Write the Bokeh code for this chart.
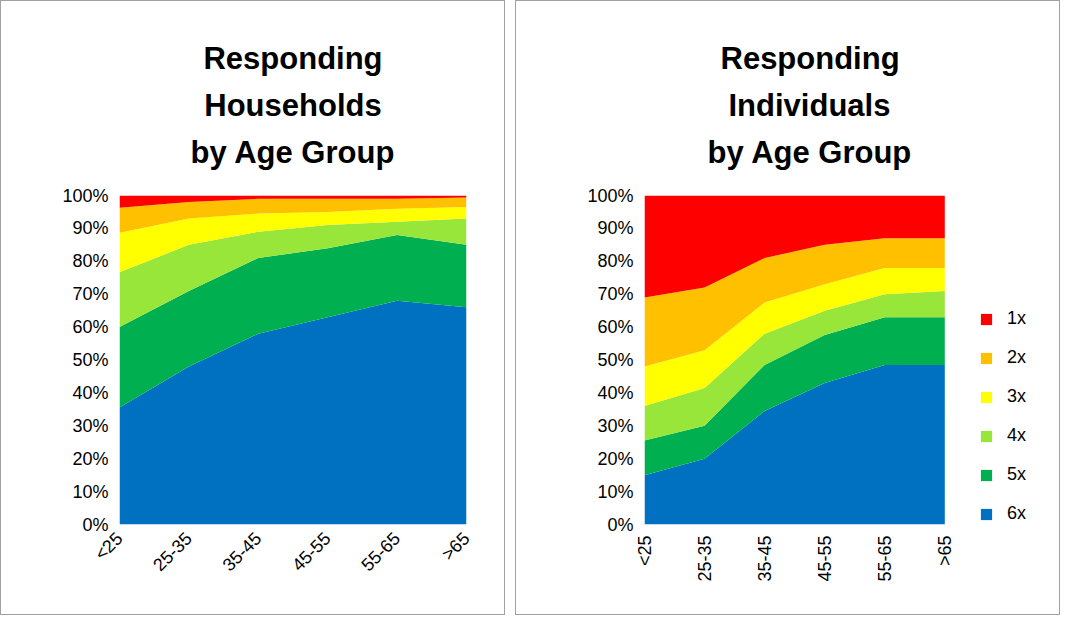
from bokeh.plotting import figure
from bokeh.layouts import row
from bokeh.models import FixedTicker, Title, Legend, LegendItem, NumeralTickFormatter, Range1d
from bokeh.embed import file_html
from bokeh.resources import INLINE
import math

cats = ["<25", "25-35", "35-45", "45-55", "55-65", ">65"]
series = ["6x", "5x", "4x", "3x", "2x", "1x"]
colors = ["#0070C0", "#00B050", "#99E63A", "#FFFF00", "#FFC000", "#FF0000"]

hh_6x = [0.356, 0.48, 0.58, 0.63, 0.68, 0.66]
hh_5x = [0.244, 0.23, 0.23, 0.21, 0.20, 0.19]
hh_4x = [0.167, 0.14, 0.08, 0.07, 0.04, 0.08]
hh_3x = [0.12, 0.08, 0.055, 0.04, 0.04, 0.035]
hh_2x = [0.076, 0.05, 0.045, 0.04, 0.03, 0.029]
hh_1x = [0.037, 0.02, 0.01, 0.01, 0.01, 0.006]

ind_6x = [0.15, 0.20, 0.345, 0.43, 0.485, 0.485]
ind_5x = [0.105, 0.10, 0.14, 0.146, 0.145, 0.145]
ind_4x = [0.105, 0.115, 0.095, 0.074, 0.07, 0.08]
ind_3x = [0.12, 0.115, 0.095, 0.08, 0.08, 0.07]
ind_2x = [0.21, 0.19, 0.135, 0.12, 0.09, 0.09]
ind_1x = [0.31, 0.28, 0.19, 0.15, 0.13, 0.13]

FONT = "Liberation Sans"

def make(title_lines, data, rot, w, w_left, w_right, w_bottom, x_end, t_offs=None, legend=False):
    p = figure(output_backend="svg", toolbar_location=None,
               width=w, height=615,
               x_range=Range1d(0, x_end), y_range=Range1d(0, 1),
               min_border_left=w_left, min_border_right=w_right, min_border_top=0,
               min_border_bottom=w_bottom)
    src = {"x": list(range(len(cats)))}
    for s, d in zip(series, data):
        src[s] = d
    rs = p.varea_stack(stackers=series, x="x", color=colors, source=src)
    p.add_layout(Title(text=" ", text_font_size="8px"), "above")
    for i in reversed(range(len(title_lines))):
        kw = dict(align="center") if t_offs is None else dict(align="left", offset=t_offs[i])
        p.add_layout(Title(text=title_lines[i], text_font=FONT,
                           text_font_size="31px", text_font_style="bold",
                           text_color="#000000", **kw), "above")
    p.add_layout(Title(text=" ", text_font_size="18px"), "above")
    p.xaxis.ticker = FixedTicker(ticks=list(range(len(cats))))
    p.xaxis.major_label_overrides = {i: c for i, c in enumerate(cats)}
    p.xaxis.major_label_orientation = rot
    p.yaxis.ticker = FixedTicker(ticks=[i / 10 for i in range(11)])
    p.yaxis.formatter = NumeralTickFormatter(format="0%")
    for ax in (p.xaxis, p.yaxis):
        ax.axis_line_color = None
        ax.major_tick_line_color = None
        ax.minor_tick_line_color = None
        ax.major_label_text_font = FONT
        ax.major_label_text_font_size = "18px"
        ax.major_label_text_color = "#000000"
    p.grid.grid_line_color = None
    p.outline_line_color = None
    p.styles = {"border": "1px solid #a0a0a0"}
    if legend:
        items = [LegendItem(label=s, renderers=[r]) for s, r in zip(series, rs)]
        lg = Legend(items=list(reversed(items)), border_line_color=None,
                    background_fill_alpha=0, label_text_color="#000000",
                    label_text_font=FONT, label_text_font_size="18px",
                    glyph_width=14, glyph_height=14, spacing=18,
                    label_standoff=14, margin=0, location=(335, 0))
        p.add_layout(lg)
    return p

p1 = make(["Responding", "Households", "by Age Group"],
          [hh_6x, hh_5x, hh_4x, hh_3x, hh_2x, hh_1x], math.pi / 4, 505, 118, 40, 92, 5)
p2 = make(["Responding", "Individuals", "by Age Group"],
          [ind_6x, ind_5x, ind_4x, ind_3x, ind_2x, ind_1x], math.pi / 2, 545, 128, 5, 88, 6.86,
          t_offs=[76, 84, 63], legend=True)

layout = row(p1, p2, spacing=10)
open("out.html", "w").write(file_html(layout, INLINE))
